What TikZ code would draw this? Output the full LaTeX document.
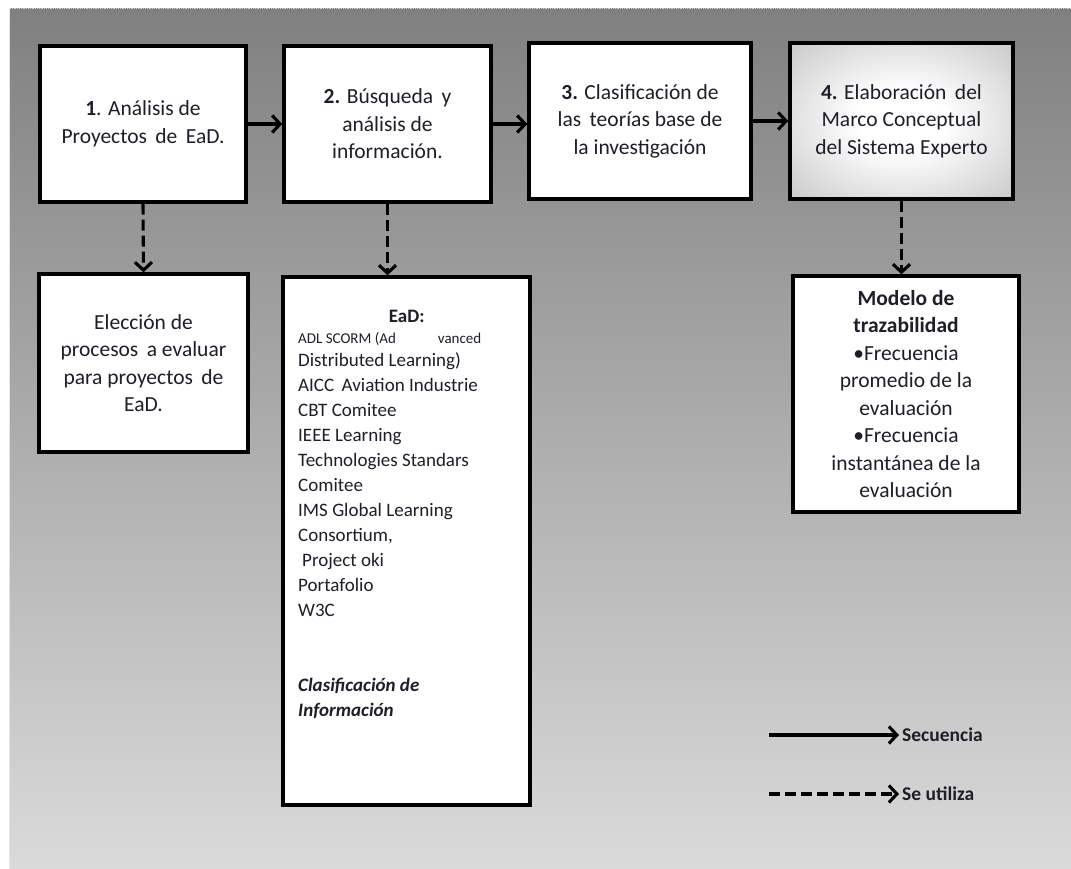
\documentclass[tikz,border=0pt]{standalone}
\usepackage{fontspec}
\setmainfont{Carlito}
\usetikzlibrary{arrows.meta,calc}

\definecolor{ink}{HTML}{1E1E2A}
\definecolor{bgtop}{RGB}{128,128,128}
\definecolor{bgbot}{RGB}{218,218,218}
\definecolor{glowmid}{RGB}{172,172,172}
\definecolor{glowedge}{RGB}{132,132,132}

% soft white glow that fades to grey towards the corners
\pgfdeclareradialshading{glowshade}{\pgfpoint{0bp}{0bp}}{%
  color(0bp)=(white); color(7bp)=(white); color(35bp)=(glowmid);
  color(50bp)=(glowedge)}

\begin{document}
\begin{tikzpicture}[x=1pt,y=-1pt,
  box/.style={draw=black, line width=3.4pt, fill=white, inner sep=0pt,
    align=center, text=ink, font=\fontsize{21.5}{27.5}\selectfont},
  seq/.style={line width=3.1pt,
    -{Straight Barb[length=8pt,width=17pt,line width=3.1pt]}},
  uses/.style={seq, dash pattern=on 11pt off 5pt},
  legend/.style={font=\bfseries\fontsize{19.5}{24}\selectfont, text=ink,
    inner sep=0pt, anchor=west},
]
% page and shaded backdrop
\useasboundingbox (0,0) rectangle (1071,869);
\fill[white] (0,0) rectangle (1071,869);
\shade[top color=bgtop, bottom color=bgbot] (10,9) rectangle (1071,869);
\draw[gray!35, densely dotted, line width=0.8pt] (10,8.5) -- (1071,8.5);
\draw[gray!20, line width=0.8pt] (9,9) -- (9,869);

% glowing fill of the fourth step, clipped to its frame
\begin{scope}
  \clip (790,43) rectangle (1013,199);
  \shade[shading=glowshade] (743.8,10.7) rectangle (1059.2,231.3);
\end{scope}

% process steps
\node[box, minimum width=206pt, minimum height=156pt] (b1) at (143,124)
  {\textbf{1}. Análisis de\\Proyectos\, de\, EaD.};
\node[box, minimum width=207pt, minimum height=156pt] (b2) at (387.5,124)
  {\textbf{2.} Búsqueda\, y\\análisis de\\información.};
\node[box, minimum width=222pt, minimum height=156pt] (b3) at (640,121)
  {\textbf{3.} Clasificación de\\las\, teorías base de\\la investigación};
\node[box, fill=none,
  minimum width=223pt, minimum height=156pt] (b4) at (901.5,121)
  {\textbf{4.} Elaboración\, del\\Marco Conceptual\\del Sistema Experto};

% results of each step
\node[box, minimum width=209pt, minimum height=178pt] (b5) at (143.5,363)
  {Elección de\\procesos\, a evaluar\\para proyectos\, de\\EaD.};
\node[box, minimum width=247pt, minimum height=528pt] (b6) at (406.5,541) {};
\node[anchor=north west, inner sep=0pt, align=left,
  text=ink, font=\fontsize{19}{25}\selectfont] (b6text) at (298,310)
  {\makebox[217pt]{\textbf{EaD:}}\\[-4pt]
   {\fontsize{15}{18}\selectfont ADL SCORM (Ad\hspace{42pt}vanced}\\[-2pt]
   Distributed Learning)\\
   AICC\, Aviation Industrie\\
   CBT Comitee\\
   IEEE Learning\\
   Technologies Standars\\
   Comitee\\
   IMS Global Learning\\
   Consortium,\\
   \hspace*{4pt}Project oki\\
   Portafolio\\
   W3C\\[50pt]
   \textbf{\textit{Clasificación de}}\\
   \textbf{\textit{Información}}};
\node[box, minimum width=226pt, minimum height=236pt] (b7) at (906,394)
  {\textbf{Modelo de}\\\textbf{trazabilidad}\\•Frecuencia\\promedio de la\\
   evaluación\\•Frecuencia\\instantánea de la\\evaluación};

% sequence connectors
\draw[seq] (b1.east) -- (b2.west);
\draw[seq] (b2.east) -- (b2.east -| b3.west);
\draw[seq] (b3.east) -- (b4.west);

% usage connectors
\draw[uses] (b1.south) -- (b5.north);
\draw[uses] (b2.south) -- (b2.south |- b6.north);
\draw[uses] (b4.south) -- (b4.south |- b7.north);

% legend
\coordinate (l1) at (769,735);
\coordinate (l2) at (769,794);
\node[legend] (t1) at (902,735) {Secuencia};
\node[legend] (t2) at (902,794) {Se utiliza};
\draw[seq] (l1) -- ([xshift=-3pt]t1.west);
\draw[uses] (l2) -- ([xshift=-3pt]t2.west);
\end{tikzpicture}
\end{document}
